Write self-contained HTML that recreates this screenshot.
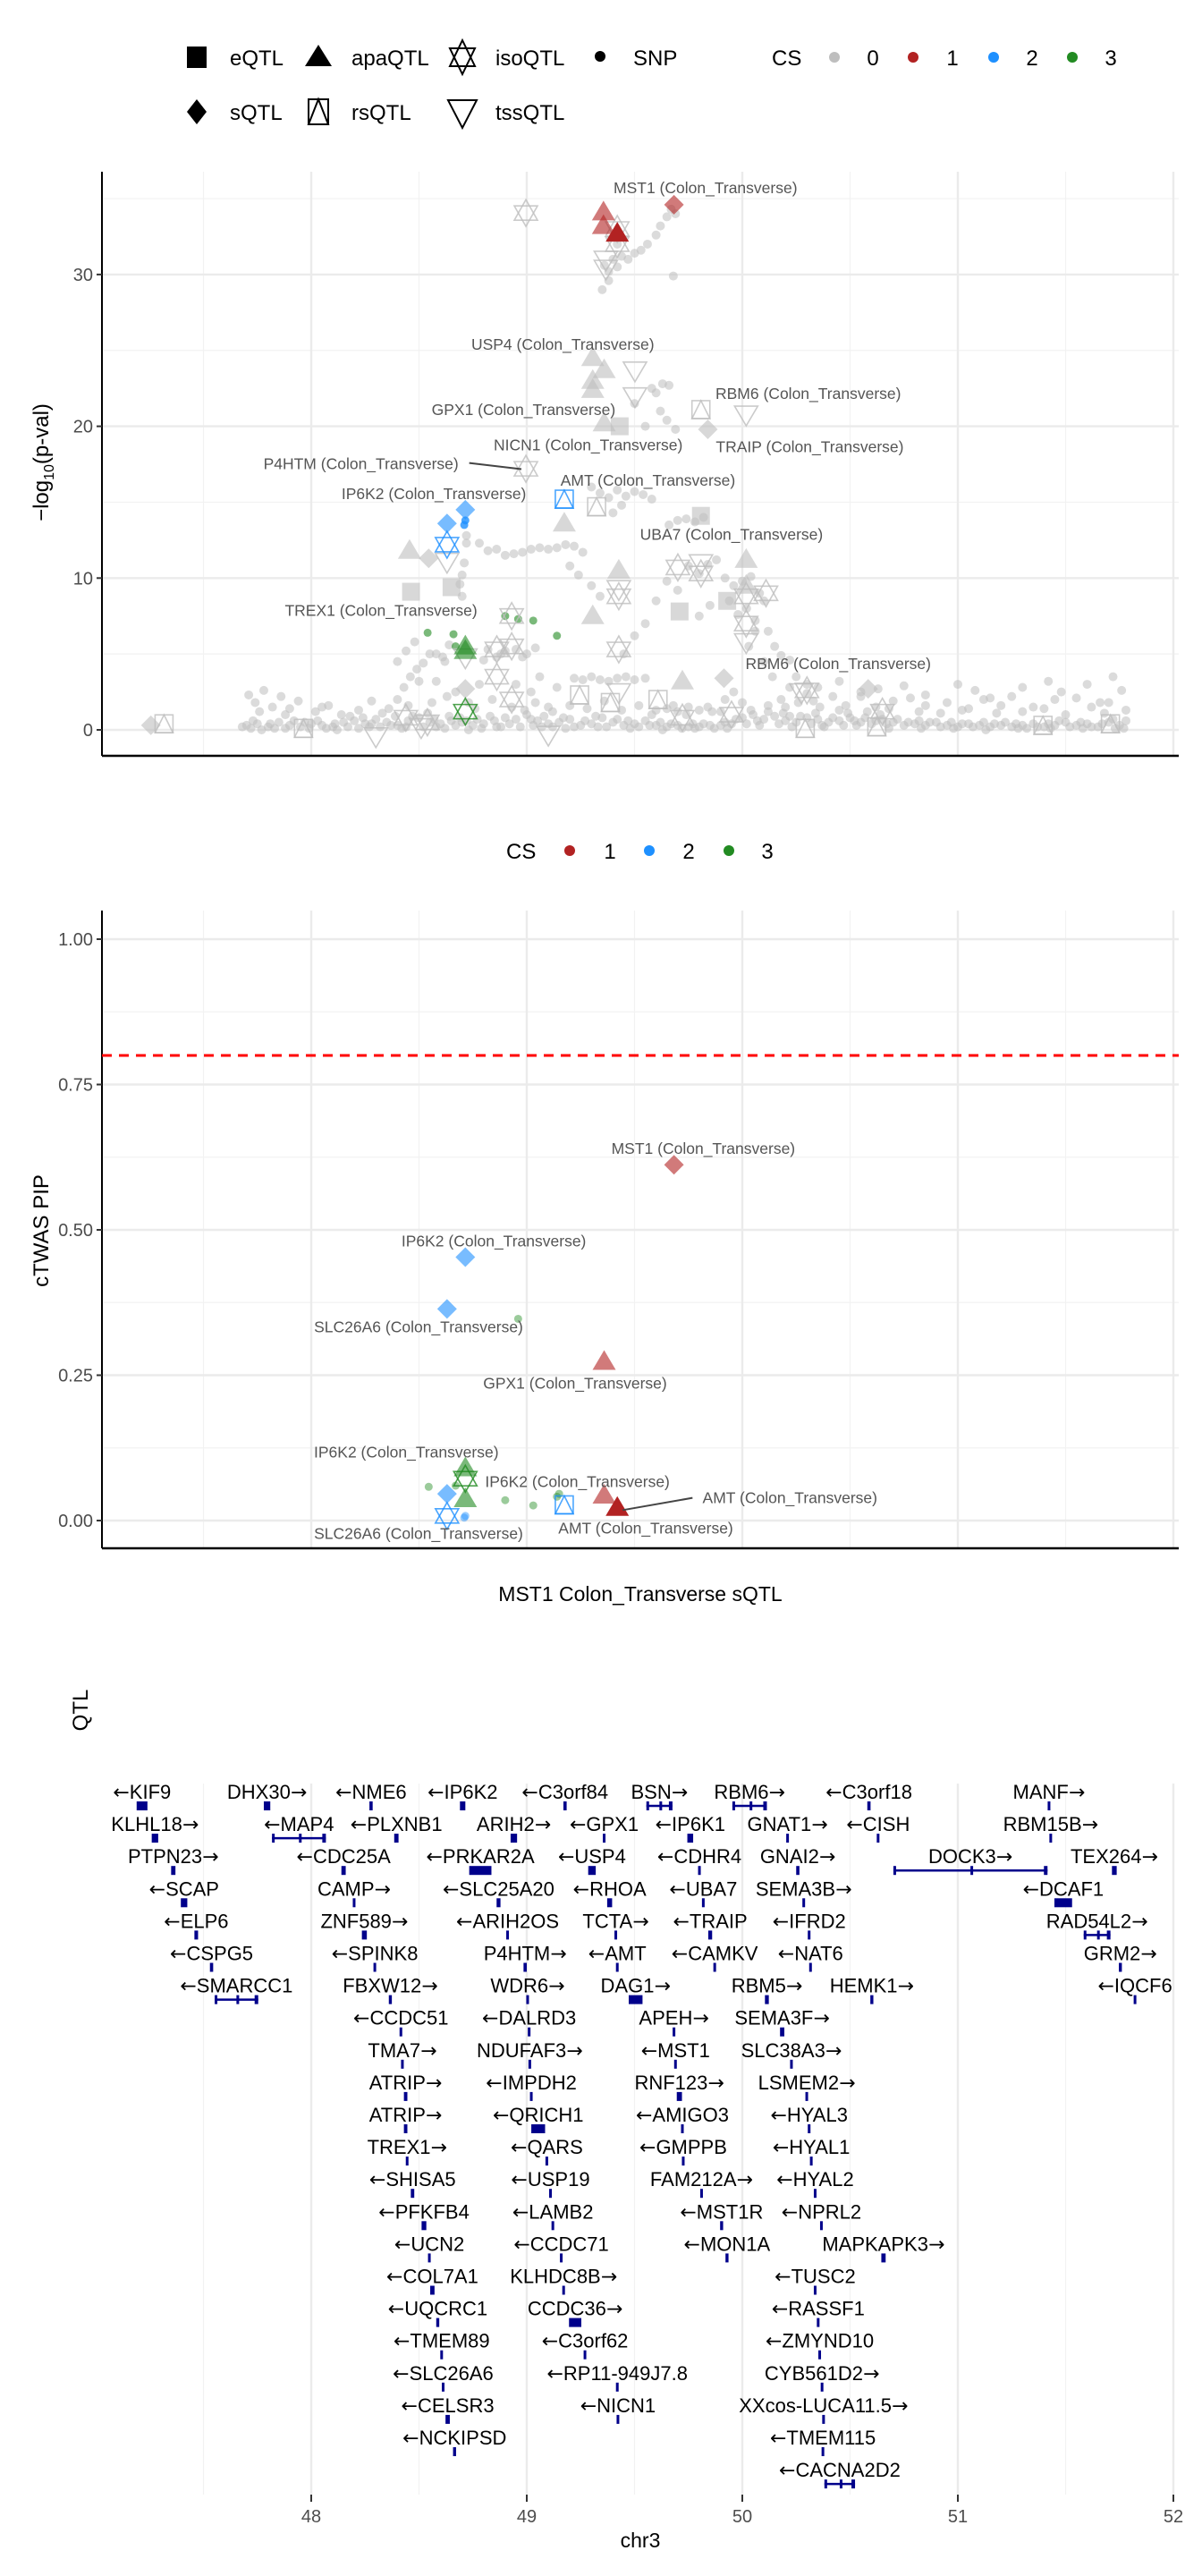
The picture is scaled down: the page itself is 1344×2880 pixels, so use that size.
<!DOCTYPE html>
<html><head><meta charset="utf-8"><style>
html,body{margin:0;padding:0;background:#fff;}
svg{display:block;font-family:"Liberation Sans","DejaVu Sans",sans-serif;}
</style></head><body>
<svg id="root" width="1344" height="2880" viewBox="0 0 1344 2880" xmlns="http://www.w3.org/2000/svg"></svg>
<script>
// ---------- DATA ----------
const xTicks = [48, 49, 50, 51, 52];
const xGridMinor = [47.5, 48.5, 49.5, 50.5, 51.5];
const p1YTicks = [0, 10, 20, 30];
const p1YMinor = [5, 15, 25, 35];
const p2YTicks = [0, 0.25, 0.5, 0.75, 1.0];
const p2YTickLabels = ["0.00", "0.25", "0.50", "0.75", "1.00"];
const p2YMinor = [0.125, 0.375, 0.625, 0.875];
const pipThreshold = 0.8;

const snpBaseline = [[47.70,.3],[47.75,.4],[47.80,.2],[47.85,.5],[47.90,.3],[47.95,.2],[48.00,.4],[48.05,.3],[48.10,.2],[48.15,.5],[48.20,.6],[48.25,.4],[48.30,.7],[48.35,.5],[48.40,.3],[48.45,.6],[48.50,.8],[48.55,.5],[48.60,.4],[48.65,.6],[48.70,.5],[48.75,.3],[48.80,.4],[48.85,.6],[48.90,.8],[48.95,.7],[49.00,1.0],[49.05,.6],[49.10,.4],[49.15,.5],[49.20,.7],[49.25,.3],[49.30,.4],[49.35,.8],[49.40,.5],[49.45,.3],[49.50,.4],[49.55,.6],[49.60,.3],[49.65,.2],[49.70,.3],[49.75,.2],[49.80,.2],[49.85,.3],[49.90,.3],[49.95,.4],[50.00,.8],[50.05,1.0],[50.10,.7],[50.15,.9],[50.20,.6],[50.25,.5],[50.30,.8],[50.35,.7],[50.40,.5],[50.45,.6],[50.50,.8],[50.55,.5],[50.60,.4],[50.65,.7],[50.70,.5],[50.75,.3],[50.80,.4],[50.85,.3],[50.90,.5],[50.95,.3],[51.00,.2],[51.05,.4],[51.10,.3],[51.15,.2],[51.20,.3],[51.25,.2],[51.30,.3],[51.35,.4],[51.40,.2],[51.45,.3],[51.50,.5],[51.55,.3],[51.60,.4],[51.65,.2],[51.70,.5],[51.75,.3],[51.78,.6],
[47.72,.1],[47.83,.1],[47.97,.5],[48.12,.0],[48.27,.2],[48.42,.1],[48.58,.2],[48.73,.0],[48.88,.2],[49.03,.3],[49.18,.1],[49.33,.2],[49.48,.1],[49.63,.0],[49.78,.1],[49.93,.1],[50.08,.3],[50.23,.2],[50.38,.2],[50.53,.3],[50.68,.1],[50.83,.1],[50.98,.1],[51.13,.0],[51.28,.1],[51.43,.1],[51.58,.1],[51.73,.1],
[47.68,.2],[47.73,.6],[47.77,.0],[47.81,.4],[47.88,.1],[47.92,.6],[47.99,.1],[48.03,.6],[48.07,.1],[48.11,.4],[48.17,.2],[48.22,.1],[48.24,.8],[48.28,.4],[48.32,.2],[48.37,.3],[48.39,.9],[48.44,.2],[48.47,.9],[48.52,.2],[48.54,1.1],[48.57,.7],[48.62,.1],[48.64,.9],[48.67,.3],[48.69,.8],[48.72,.6],[48.77,.7],[48.79,.1],[48.83,.9],[48.86,.2],[48.92,.4],[48.97,.2],[48.99,1.3],[49.02,.7],[49.07,.2],[49.08,.9],[49.12,.2],[49.17,.8],[49.22,.2],[49.27,.6],[49.32,.9],[49.37,.2],[49.42,.7],[49.47,.6],[49.52,.2],[49.57,.3],[49.62,.5],[49.67,.4],[49.72,.1],[49.77,.4],[49.82,.4],[49.87,.1],[49.92,.5],[49.97,.7],[50.02,.4],[50.04,1.3],[50.07,.6],[50.12,1.2],[50.17,.4],[50.19,1.1],[50.22,.9],[50.27,.9],[50.32,.4],[50.34,1.1],[50.37,.3],[50.42,.8],[50.47,.3],[50.49,1.1],[50.52,.6],[50.57,.8],[50.62,.6],[50.64,1.0],[50.67,.4],[50.72,.7],[50.77,.5],[50.82,.6],[50.87,.5],[50.92,.2],[50.97,.5],[51.02,.4],[51.07,.2],[51.12,.5],[51.17,.4],[51.22,.5],[51.27,.4],[51.32,.1],[51.37,.2],[51.42,.4],[51.47,.6],[51.52,.2],[51.57,.5],[51.62,.2],[51.67,.4],[51.72,.7],[51.77,.1]];
const snpScatter = [[47.71,2.3],[47.74,1.8],[47.78,2.6],[47.82,1.5],[47.86,2.2],[47.90,1.4],[47.94,1.9],[48.02,1.2],[48.08,1.6],[48.14,1.0],[48.22,1.3],[48.28,1.9],[48.33,1.1],[48.40,2.0],[48.43,2.8],[48.46,3.5],[48.49,4.0],[48.52,4.4],[48.55,5.0],[48.58,3.2],[48.61,4.8],[48.64,5.6],[48.67,2.5],[48.73,1.8],[48.78,3.0],[48.82,5.3],[48.86,4.8],[48.90,5.2],[48.95,3.0],[49.02,2.5],[49.06,3.5],[49.10,1.5],[49.14,2.8],[49.22,3.4],[49.26,3.3],[49.30,3.5],[49.34,3.3],[49.38,3.2],[49.42,3.4],[49.46,3.5],[49.50,3.3],[49.55,3.4],[49.60,1.3],[49.65,1.4],[49.70,1.2],[49.75,1.5],[49.80,1.3],[49.86,1.2],[49.92,2.0],[49.96,2.5],[50.03,5.5],[50.06,6.5],[50.10,4.5],[50.14,3.5],[50.18,2.0],[50.22,2.8],[50.26,1.8],[50.30,2.4],[50.36,1.5],[50.42,2.2],[50.48,1.6],[50.55,2.5],[50.62,1.5],[50.70,1.9],[50.78,2.1],[50.85,1.6],[50.95,1.8],[51.05,1.4],[51.12,2.0],[51.20,1.6],[51.25,2.2],[51.35,1.5],[51.45,2.0],[51.55,2.1],[51.62,1.5],[51.70,1.8],[51.76,2.6],[51.78,1.3],
[47.76,1.2],[47.88,1.0],[48.05,1.5],[48.18,0.9],[48.36,1.4],[48.45,1.6],[48.56,1.8],[48.63,2.2],[48.76,1.4],[48.84,2.0],[48.93,1.5],[49.04,1.8],[49.12,1.2],[49.20,1.6],[49.28,1.4],[49.36,1.9],[49.44,1.3],[49.52,1.6],[49.58,1.0],[49.68,1.6],[49.74,1.0],[49.84,1.5],[49.90,1.2],[50.00,1.8],[50.12,1.6],[50.20,1.5],[50.33,1.9],[50.45,1.3],[50.58,1.2],[50.68,1.4],[50.82,1.2],[50.92,1.1],[51.02,1.3],[51.18,1.1],[51.30,1.2],[51.40,1.4],[51.50,1.0],[51.68,1.1]];
const snpHump = [[48.72,12.3],[48.71,11.0],[48.70,10.2],[48.69,9.6],[48.70,8.8],[48.72,12.8],
[48.78,12.3],[48.82,11.8],[48.86,11.9],[48.90,11.5],[48.94,11.6],[48.98,11.7],[49.02,11.9],[49.06,12.0],[49.10,11.9],[49.14,12.0],[49.18,12.2],[49.22,12.1],[49.26,11.7],[49.20,10.8],[49.24,10.2],[49.30,9.5],[49.34,8.8],
[49.30,16.0],[49.34,15.6],[49.38,15.3],[49.42,15.8],[49.46,15.4],[49.50,15.7],[49.54,15.5],[49.58,15.2],[49.44,14.8],[49.40,14.3],
[49.66,13.5],[49.70,13.8],[49.74,13.9],[49.78,13.7],[49.82,14.0],
[49.58,22.5],[49.60,22.2],[49.63,22.8],[49.66,22.7],[49.62,21.0],[49.65,20.4],[49.69,19.8],[49.55,20.0],[49.50,21.5],
[49.36,30.6],[49.38,30.2],[49.40,31.0],[49.42,30.5],[49.44,31.2],[49.47,31.0],[49.50,31.4],[49.53,31.6],[49.56,32.0],[49.60,32.6],[49.62,33.2],[49.65,33.8],[49.67,34.3],[49.69,34.0],[49.42,32.0],[49.38,29.6],[49.35,29.0],[49.68,29.9],
[49.75,10.8],[49.80,10.3],[49.84,10.9],[49.88,11.2],[49.92,10.0],[49.96,9.5],[50.00,9.8],[50.04,10.1],[50.08,9.0],[50.10,8.5],[50.02,8.0],[49.98,7.6],[50.06,7.2],[49.94,8.5],[50.12,6.5],[50.15,5.5],[50.18,4.9],[50.22,4.6],[49.85,8.2],[49.80,7.5],[49.70,9.2],[49.65,9.8],[49.60,8.5],[49.55,7.0],[49.50,6.2],[49.45,5.0],
[48.40,4.5],[48.44,5.2],[48.48,5.8],[48.58,5.0],[48.62,4.5],[48.50,3.2],[48.95,5.3],[49.00,5.0],[48.98,4.8],[49.04,5.4],[48.88,5.0],[48.80,4.6],
[50.25,3.5],[50.30,3.0],[50.35,2.8],[50.45,3.2],[50.55,2.2],[50.63,2.7],[50.75,2.9],[50.85,2.3],[51.00,3.0],[51.08,2.6],[51.15,2.1],[51.30,2.8],[51.42,3.2],[51.48,2.5],[51.60,3.0],[51.72,3.5],[51.66,1.8]];
const snpCS3 = [[48.54,6.4],[48.66,6.3],[48.90,7.5],[48.96,7.3],[49.03,7.2],[49.14,6.2],[48.67,5.5]];
const snpCS2 = [[48.715,13.8],[48.71,13.5]];

// [type, Mb, -log10p, cs, dark]
const p1Markers = [
["iso",48.996,34.05,0],["iso",49.420,33.0,0],["tss",49.367,31.0,0],["tss",49.367,30.4,0],["iso",49.420,32.0,0],
["tri",49.306,24.5,0],["tri",49.359,23.7,0],["tri",49.306,23.0,0],["tri",49.306,22.4,0],["tss",49.502,23.7,0],["tss",49.502,22.0,0],
["rs",49.808,21.1,0],["tss",50.018,20.8,0],["dia",49.840,19.8,0],["tri",49.359,20.2,0],["sq",49.431,20.0,0],
["iso",48.996,17.2,0],["rs",49.324,14.7,0],["tri",49.174,13.6,0],["sq",49.808,14.1,0],["tri",48.456,11.8,0],["dia",48.545,11.3,0],
["tss",48.630,11.1,0],["sq",48.463,9.1,0],["sq",48.651,9.4,0],["tri",49.427,10.5,0],["iso",49.427,8.8,0],["tss",49.427,9.3,0],
["tri",49.306,7.5,0],["sq",49.709,7.8,0],["iso",49.701,10.7,0],["tss",49.808,11.0,0],["iso",49.808,10.3,0],["tri",50.018,11.2,0],
["tri",50.018,9.5,0],["iso",50.018,8.8,0],["sq",49.930,8.5,0],["iso",50.110,9.0,0],["iso",50.018,7.0,0],["tss",50.018,5.8,0],
["iso",48.930,7.5,0],["iso",48.861,5.3,0],["iso",48.930,5.5,0],["tss",48.715,4.8,0],["iso",49.427,5.3,0],["tri",49.722,3.2,0],
["dia",49.915,3.4,0],["tss",50.274,2.5,0],["dia",50.584,2.7,0],["dia",47.256,0.3,0],["rs",47.317,0.4,0],["dia",48.715,2.7,0],
["iso",48.861,3.5,0],["iso",48.930,2.0,0],["rs",49.245,2.3,0],["rs",49.609,2.0,0],["tss",49.427,2.5,0],["rs",49.388,1.8,0],
["iso",48.439,0.8,0],["tss",48.510,0.2,0],["iso",48.539,0.5,0],["rs",47.964,0.1,0],["tss",49.100,-0.3,0],["tss",48.300,-0.4,0],
["rs",50.292,0.1,0],["rs",50.624,0.2,0],["rs",51.395,0.3,0],["rs",51.708,0.4,0],["iso",50.300,2.6,0],["iso",50.650,1.2,0],
["iso",49.950,1.0,0],["iso",49.722,0.8,0],
["tri",49.356,34.1,1],["tri",49.356,33.2,1],["tri",49.420,32.7,1,1],["dia",49.683,34.6,1],
["rs",49.174,15.2,2],["dia",48.715,14.5,2],["dia",48.630,13.6,2],["iso",48.630,12.2,2],
["tri",48.715,5.2,3],["tri",48.715,5.5,3],["iso",48.715,1.2,3]];

// [text, Mb, value]
const p1Labels = [["MST1 (Colon_Transverse)",49.829,35.71],["USP4 (Colon_Transverse)",49.167,25.39],["GPX1 (Colon_Transverse)",48.985,21.10],
["RBM6 (Colon_Transverse)",50.306,22.15],["NICN1 (Colon_Transverse)",49.285,18.77],["TRAIP (Colon_Transverse)",50.313,18.64],
["P4HTM (Colon_Transverse)",48.231,17.52],["AMT (Colon_Transverse)",49.562,16.44],["IP6K2 (Colon_Transverse)",48.569,15.55],
["UBA7 (Colon_Transverse)",49.950,12.88],["TREX1 (Colon_Transverse)",48.324,7.88],["RBM6 (Colon_Transverse)",50.445,4.37]];
const p1Leader = [[48.733,17.58],[48.975,17.18]];

const p2Markers = [["dia",49.683,.612,1],["dia",48.715,.453,2],["dia",48.630,.364,2],["tri",49.359,.273,1],["tri",48.715,.09,3],
["tri",48.715,.037,3],["iso",48.715,.072,3],["dia",48.630,.046,2],["iso",48.630,.008,2],["rs",49.174,.027,2],["tri",49.359,.043,1],["tri",49.420,.022,1,1]];
const p2Dots = [[48.96,.347,3],[48.545,.058,3],[48.90,.035,3],[49.03,.026,3],[49.14,.041,3],[49.15,.046,3],[48.67,.06,3],[48.715,.008,2],[48.71,.005,2]];
const p2Labels = [["MST1 (Colon_Transverse)",49.819,.640],["IP6K2 (Colon_Transverse)",48.847,.481],["SLC26A6 (Colon_Transverse)",48.498,.333],
["GPX1 (Colon_Transverse)",49.224,.236],["IP6K2 (Colon_Transverse)",48.441,.118],["IP6K2 (Colon_Transverse)",49.235,.067],
["AMT (Colon_Transverse)",50.221,.039],["SLC26A6 (Colon_Transverse)",48.498,-.022],["AMT (Colon_Transverse)",49.552,-.013]];
const p2Leader = [[49.445,.018],[49.769,.039]];

// gene rows: [label, start, end]
const geneRows = [
[["←KIF9",47.19,47.24],["DHX30→",47.78,47.81],["←NME6",48.27,48.285],["←IP6K2",48.69,48.715],["←C3orf84",49.17,49.185],["BSN→",49.555,49.676],["RBM6→",49.954,50.114],["←C3orf18",50.58,50.595],["MANF→",51.418,51.428]],
[["KLHL18→",47.26,47.29],["←MAP4",47.818,48.068],["←PLXNB1",48.385,48.405],["ARIH2→",48.925,48.955],["←GPX1",49.355,49.363],["←IP6K1",49.745,49.772],["GNAT1→",50.205,50.215],["←CISH",50.625,50.635],["RBM15B→",51.426,51.436]],
[["PTPN23→",47.35,47.37],["←CDC25A",48.14,48.16],["←PRKAR2A",48.733,48.836],["←USP4",49.285,49.32],["←CDHR4",49.795,49.807],["GNAI2→",50.25,50.265],["DOCK3→",50.701,51.416],["TEX264→",51.715,51.737]],
[["←SCAP",47.395,47.425],["CAMP→",48.196,48.202],["←SLC25A20",48.86,48.878],["←RHOA",49.373,49.396],["←UBA7",49.814,49.824],["SEMA3B→",50.28,50.29],["←DCAF1",51.448,51.530]],
[["←ELP6",47.458,47.475],["ZNF589→",48.235,48.258],["←ARIH2OS",48.908,48.914],["TCTA→",49.408,49.418],["←TRAIP",49.842,49.86],["←IFRD2",50.306,50.314],["RAD54L2→",51.584,51.708]],
[["←CSPG5",47.53,47.545],["←SPINK8",48.29,48.3],["P4HTM→",48.985,49.0],["←AMT",49.415,49.425],["←CAMKV",49.867,49.877],["←NAT6",50.313,50.32],["GRM2→",51.747,51.761]],
[["←SMARCC1",47.552,47.754],["FBXW12→",48.36,48.374],["WDR6→",48.998,49.01],["DAG1→",49.473,49.537],["RBM5→",50.105,50.123],["HEMK1→",50.594,50.608],["←IQCF6",51.819,51.825]],
[["←CCDC51",48.412,48.42],["←DALRD3",49.008,49.014],["APEH→",49.678,49.688],["SEMA3F→",50.175,50.195]],
[["TMA7→",48.42,48.426],["NDUFAF3→",49.011,49.017],["←MST1",49.686,49.694],["SLC38A3→",50.222,50.234]],
[["ATRIP→",48.43,48.446],["←IMPDH2",49.016,49.026],["RNF123→",49.696,49.72],["LSMEM2→",50.296,50.302]],
[["ATRIP→",48.43,48.446],["←QRICH1",49.021,49.085],["←AMIGO3",49.719,49.725],["←HYAL3",50.307,50.313]],
[["TREX1→",48.442,48.448],["←QARS",49.088,49.098],["←GMPPB",49.721,49.731],["←HYAL1",50.315,50.325]],
[["←SHISA5",48.462,48.478],["←USP19",49.104,49.116],["FAM212A→",49.808,49.814],["←HYAL2",50.335,50.341]],
[["←PFKFB4",48.512,48.534],["←LAMB2",49.116,49.126],["←MST1R",49.897,49.911],["←NPRL2",50.364,50.37]],
[["←UCN2",48.546,48.55],["←CCDC71",49.157,49.163],["←MON1A",49.922,49.936],["MAPKAPK3→",50.645,50.665]],
[["←COL7A1",48.552,48.572],["KLHDC8B→",49.168,49.174],["←TUSC2",50.335,50.341]],
[["←UQCRC1",48.58,48.594],["CCDC36→",49.196,49.253],["←RASSF1",50.348,50.356]],
[["←TMEM89",48.603,48.607],["←C3orf62",49.265,49.275],["←ZMYND10",50.355,50.363]],
[["←SLC26A6",48.606,48.618],["←RP11-949J7.8",49.416,49.424],["CYB561D2→",50.366,50.374]],
[["←CELSR3",48.623,48.643],["←NICN1",49.421,49.425],["XXcos-LUCA11.5→",50.372,50.382]],
[["←NCKIPSD",48.658,48.672],["←TMEM115",50.371,50.377]],
[["←CACNA2D2",50.381,50.523]]];

// ---------- RENDER ----------
const NS = "http://www.w3.org/2000/svg";
const root = document.getElementById("root");
function mk(tag, attrs, parent) {
  const e = document.createElementNS(NS, tag);
  for (const k in attrs) e.setAttribute(k, attrs[k]);
  (parent || root).appendChild(e);
  return e;
}
function txt(s, attrs, parent) { const e = mk("text", attrs, parent); e.textContent = s; return e; }

const PL = 114, PR = 1318;
const xs = mb => 348 + (mb - 48) * 241;
const y1 = v => 816 - v * 16.97;
const y2 = v => 1700 - v * 650;
const COLORS = {0: "#BEBEBE", 1: "#B22222", 2: "#1E90FF", 3: "#228B22"};

function marker(g, type, cx, cy, cs, dark) {
  const c = COLORS[cs];
  const op = dark ? 1 : 0.6;
  let e;
  if (type === "tri") {
    e = mk("polygon", {points: `${cx},${cy-13} ${cx-13},${cy+9} ${cx+13},${cy+9}`, fill: c, "fill-opacity": op}, g);
  } else if (type === "sq") {
    e = mk("rect", {x: cx-10, y: cy-10, width: 20, height: 20, fill: c, "fill-opacity": op}, g);
  } else if (type === "dia") {
    e = mk("polygon", {points: `${cx},${cy-11} ${cx+11},${cy} ${cx},${cy+11} ${cx-11},${cy}`, fill: c, "fill-opacity": op}, g);
  } else if (type === "tss") {
    e = mk("polygon", {points: `${cx-13},${cy-9} ${cx+13},${cy-9} ${cx},${cy+13}`, fill: "none", stroke: c, "stroke-width": 1.6, "stroke-opacity": op+0.2}, g);
  } else if (type === "iso") {
    e = mk("g", {}, g);
    mk("polygon", {points: `${cx},${cy-15} ${cx-13},${cy+8} ${cx+13},${cy+8}`, fill: "none", stroke: c, "stroke-width": 1.6, "stroke-opacity": op+0.2}, e);
    mk("polygon", {points: `${cx-13},${cy-8} ${cx+13},${cy-8} ${cx},${cy+15}`, fill: "none", stroke: c, "stroke-width": 1.6, "stroke-opacity": op+0.2}, e);
  } else if (type === "rs") {
    e = mk("g", {}, g);
    mk("rect", {x: cx-10, y: cy-10, width: 20, height: 20, fill: "none", stroke: c, "stroke-width": 1.6, "stroke-opacity": op+0.2}, e);
    mk("polygon", {points: `${cx},${cy-10} ${cx-10},${cy+10} ${cx+10},${cy+10}`, fill: "none", stroke: c, "stroke-width": 1.6, "stroke-opacity": op+0.2}, e);
  }
  return e;
}

function panel(top, bottom, yfun, major, minor, labels, name) {
  const g = mk("g", {}, root);
  
  
  minor.forEach(v => mk("line", {x1: PL, x2: PR, y1: yfun(v), y2: yfun(v), stroke: "#F2F2F2", "stroke-width": 1.2}, g));
  xGridMinor.forEach(v => mk("line", {x1: xs(v), x2: xs(v), y1: top, y2: bottom, stroke: "#F2F2F2", "stroke-width": 1.2}, g));
  major.forEach(v => mk("line", {x1: PL, x2: PR, y1: yfun(v), y2: yfun(v), stroke: "#EBEBEB", "stroke-width": 2.4}, g));
  xTicks.forEach(v => mk("line", {x1: xs(v), x2: xs(v), y1: top, y2: bottom, stroke: "#EBEBEB", "stroke-width": 2.4}, g));
  const ax = mk("g", {}, root);
  
  
  mk("line", {x1: PL, x2: PL, y1: top, y2: bottom, stroke: "#000", "stroke-width": 2}, ax);
  mk("line", {x1: PL, x2: PR, y1: bottom, y2: bottom, stroke: "#000", "stroke-width": 2.5}, ax);
  major.forEach((v, i) => {
    mk("line", {x1: PL-6, x2: PL, y1: yfun(v), y2: yfun(v), stroke: "#333", "stroke-width": 2}, ax);
    const t = txt(labels[i], {x: PL-10, y: yfun(v)+7, "text-anchor": "end", "font-size": 20, fill: "#4D4D4D"}, ax);
    
    
  });
}

// ---------- Legend 1 ----------
const leg = mk("g", {}, root);


const legShapes = [["sq","eQTL",220,64],["tri","apaQTL",356,64],["iso","isoQTL",517,64],["dia","sQTL",220,125],["rs","rsQTL",356,125],["tss","tssQTL",517,125]];
legShapes.forEach(s => {
  const item = mk("g", {}, leg);
  
  
  const c = "#000";
  if (s[0]==="sq") mk("rect",{x:s[2]-11,y:s[3]-12,width:22,height:24,fill:c},item);
  if (s[0]==="tri") mk("polygon",{points:`${s[2]},${s[3]-14} ${s[2]-15},${s[3]+10} ${s[2]+15},${s[3]+10}`,fill:c},item);
  if (s[0]==="dia") mk("polygon",{points:`${s[2]},${s[3]-14} ${s[2]+11},${s[3]} ${s[2]},${s[3]+14} ${s[2]-11},${s[3]}`,fill:c},item);
  if (s[0]==="iso") { mk("polygon",{points:`${s[2]},${s[3]-19} ${s[2]-14},${s[3]+10} ${s[2]+14},${s[3]+10}`,fill:"none",stroke:c,"stroke-width":2},item);
    mk("polygon",{points:`${s[2]-14},${s[3]-10} ${s[2]+14},${s[3]-10} ${s[2]},${s[3]+19}`,fill:"none",stroke:c,"stroke-width":2},item); }
  if (s[0]==="rs") { mk("rect",{x:s[2]-11,y:s[3]-14,width:22,height:28,fill:"none",stroke:c,"stroke-width":2},item);
    mk("polygon",{points:`${s[2]},${s[3]-14} ${s[2]-11},${s[3]+14} ${s[2]+11},${s[3]+14}`,fill:"none",stroke:c,"stroke-width":2},item); }
  if (s[0]==="tss") mk("polygon",{points:`${s[2]-16},${s[3]-13} ${s[2]+16},${s[3]-13} ${s[2]},${s[3]+18}`,fill:"none",stroke:c,"stroke-width":2},item);
  txt(s[1], {x: s[2]+37, y: s[3]+9, "font-size": 24, fill: "#000"}, item);
});
const snpLeg = mk("g", {}, leg);


mk("circle", {cx: 671, cy: 63, r: 6, fill: "#000"}, snpLeg);
txt("SNP", {x: 708, y: 73, "font-size": 24}, snpLeg);
const csLeg1 = mk("g", {}, root);


txt("CS", {x: 863, y: 73, "font-size": 24}, csLeg1);
[[0,933,976],[1,1021,1065],[2,1111,1154],[3,1199,1242]].forEach(d => {
  const ge = mk("g", {}, csLeg1);
  
  
  mk("circle", {cx: d[1], cy: 64, r: 6, fill: COLORS[d[0]]}, ge);
  txt(String(d[0]), {x: d[2], y: 73, "font-size": 24, "text-anchor": "middle"}, ge);
});

// ---------- Plot 1 ----------
panel(192, 845, y1, p1YTicks, p1YMinor, p1YTicks.map(String), 'pval-panel');
const yt1 = txt("", {transform: "translate(54,517) rotate(-90)", "text-anchor": "middle", "font-size": 24, fill: "#000"});


mk("tspan", {}, yt1).textContent = "−log";
mk("tspan", {"font-size": 16, dy: 6}, yt1).textContent = "10";
mk("tspan", {dy: -6}, yt1).textContent = "(p-val)";

const dots1 = mk("g", {}, root);


[snpBaseline, snpScatter, snpHump].forEach(arr => arr.forEach(p => {
  const c = mk("circle", {cx: xs(p[0]), cy: y1(p[1]), r: 5, fill: "#BEBEBE", "fill-opacity": 0.55}, dots1);
  
  
}));
snpCS3.forEach(p => {
  const c = mk("circle", {cx: xs(p[0]), cy: y1(p[1]), r: 4.5, fill: COLORS[3], "fill-opacity": 0.6}, dots1);
  
  
});
snpCS2.forEach(p => {
  const c = mk("circle", {cx: xs(p[0]), cy: y1(p[1]), r: 4.5, fill: COLORS[2], "fill-opacity": 0.8}, dots1);
  
  
});
const m1 = mk("g", {}, root);


p1Markers.forEach(m => {
  const e = marker(m1, m[0], xs(m[1]), y1(m[2]), m[3], m[4]);
  
  
});
const l1 = mk("g", {}, root);


const ld1 = mk("line", {x1: xs(p1Leader[0][0]), y1: y1(p1Leader[0][1]), x2: xs(p1Leader[1][0]), y2: y1(p1Leader[1][1]), stroke: "#444", "stroke-width": 2}, l1);


p1Labels.forEach(l => {
  const t = txt(l[0], {x: xs(l[1]), y: y1(l[2]) + 6, "text-anchor": "middle", "font-size": 17.5, fill: "#555"}, l1);
  
  
});

// ---------- Legend 2 ----------
const csLeg2 = mk("g", {}, root);


txt("CS", {x: 566, y: 960, "font-size": 24}, csLeg2);
[[1,637,682],[2,726,770],[3,815,858]].forEach(d => {
  const ge = mk("g", {}, csLeg2);
  
  
  mk("circle", {cx: d[1], cy: 951, r: 6, fill: COLORS[d[0]]}, ge);
  txt(String(d[0]), {x: d[2], y: 960, "font-size": 24, "text-anchor": "middle"}, ge);
});

// ---------- Plot 2 ----------
panel(1018, 1731, y2, p2YTicks, p2YMinor, p2YTickLabels, 'pip-panel');
const thr = mk("line", {x1: PL, x2: PR, y1: y2(pipThreshold), y2: y2(pipThreshold), stroke: "#FF0000", "stroke-width": 3, "stroke-dasharray": "11 8"});


const yt2 = txt("cTWAS PIP", {transform: "translate(54,1376) rotate(-90)", "text-anchor": "middle", "font-size": 24});


const xt2 = txt("MST1 Colon_Transverse sQTL", {x: 716, y: 1790, "text-anchor": "middle", "font-size": 23});


const m2 = mk("g", {}, root);


p2Dots.forEach(p => {
  const c = mk("circle", {cx: xs(p[0]), cy: y2(p[1]), r: 4.5, fill: COLORS[p[2]], "fill-opacity": 0.45}, m2);
  
  
});
p2Markers.forEach(m => {
  const e = marker(m2, m[0], xs(m[1]), y2(m[2]), m[3], m[4]);
  
  
});
const l2 = mk("g", {}, root);


const ld2 = mk("line", {x1: xs(p2Leader[0][0]), y1: y2(p2Leader[0][1]), x2: xs(p2Leader[1][0]), y2: y2(p2Leader[1][1]), stroke: "#444", "stroke-width": 2}, l2);


p2Labels.forEach(l => {
  const t = txt(l[0], {x: xs(l[1]), y: y2(l[2]) + 6, "text-anchor": "middle", "font-size": 17.5, fill: "#555"}, l2);
  
  
});

// ---------- Gene track ----------
const qtl = txt("QTL", {transform: "translate(98,1912) rotate(-90)", "text-anchor": "middle", "font-size": 24});


const gg = mk("g", {}, root);


xGridMinor.forEach(v => mk("line", {x1: xs(v), x2: xs(v), y1: 1994, y2: 2789, stroke: "#F2F2F2", "stroke-width": 1.2}, gg));
xTicks.forEach(v => {
  mk("line", {x1: xs(v), x2: xs(v), y1: 1994, y2: 2789, stroke: "#EBEBEB", "stroke-width": 2.4}, gg);
  mk("line", {x1: xs(v), x2: xs(v), y1: 2789, y2: 2797, stroke: "#333", "stroke-width": 2}, gg);
  const t = txt(String(v), {x: xs(v), y: 2820, "text-anchor": "middle", "font-size": 20, fill: "#4D4D4D"}, gg);
  
  
});
const chr = txt("chr3", {x: 716, y: 2848, "text-anchor": "middle", "font-size": 23});


const genes = mk("g", {}, root);


function geneLabel(s, attrs, parent) {
  const t = mk("text", attrs, parent);
  const parts = s.split(/([←→])/).filter(p => p.length);
  parts.forEach(p => {
    const ts = mk("tspan", (p === "←" || p === "→") ? {"font-family": "DejaVu Sans, sans-serif"} : {}, t);
    ts.textContent = p;
  });
  return t;
}
geneRows.forEach((row, i) => {
  const ty = 2003 + i * 36.1;
  row.forEach(gn => {
    const gi = mk("g", {}, genes);
    
    
    const x1 = xs(gn[1]), x2 = xs(gn[2]);
    const mid = (x1 + x2) / 2;
    geneLabel(gn[0], {x: mid, y: ty + 8, "text-anchor": "middle", "font-size": 22, fill: "#000"}, gi);
    const w = Math.max(3, x2 - x1);
    if (w > 25) {
      mk("line", {x1: x1, x2: x1 + w, y1: ty + 16, y2: ty + 16, stroke: "#00008B", "stroke-width": 2.5}, gi);
      mk("rect", {x: x1, y: ty + 11, width: 3, height: 10, fill: "#00008B"}, gi);
      mk("rect", {x: x1 + w * 0.5, y: ty + 11, width: 3, height: 10, fill: "#00008B"}, gi);
      mk("rect", {x: x1 + w - 4, y: ty + 11, width: 4, height: 10, fill: "#00008B"}, gi);
    } else {
      mk("rect", {x: mid - w / 2, y: ty + 11, width: w, height: 10, fill: "#00008B"}, gi);
    }
  });
});
</script>
</body></html>
